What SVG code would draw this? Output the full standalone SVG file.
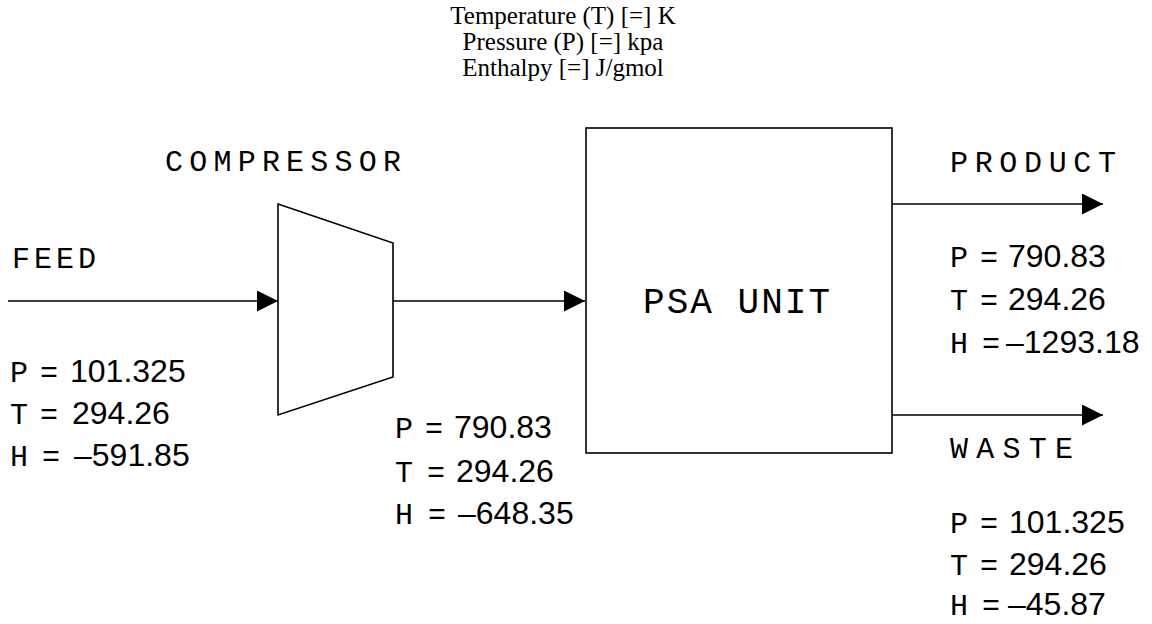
<svg xmlns="http://www.w3.org/2000/svg" width="1152" height="624" viewBox="0 0 1152 624">
  <defs>
    <marker id="arrow" markerUnits="userSpaceOnUse" markerWidth="21" markerHeight="21" refX="21" refY="10.5" orient="auto">
      <path d="M0,0 L21,10.5 L0,21 z" fill="#000"/>
    </marker>
    <style>
      .line { stroke: #000; stroke-width: 1.6; fill: none; }
      .shape { stroke: #000; stroke-width: 1.6; fill: #fff; }
      .title { font-family: "Liberation Serif", "Times New Roman", serif; font-size: 25px; fill: #000; text-anchor: middle; }
      .lbl { font-family: "Liberation Mono", "Courier New", monospace; font-size: 30px; fill: #000; }
      .big { font-family: "Liberation Mono", "Courier New", monospace; font-size: 36px; fill: #000; }
      .num { font-family: "Liberation Sans", Arial, sans-serif; font-size: 32px; fill: #000; }
    </style>
  </defs>
  <rect width="1152" height="624" fill="#fff"/>

  <g id="legend">
    <text class="title" x="563" y="24">Temperature (T) [=] K</text>
    <text class="title" x="563" y="50">Pressure (P) [=] kpa</text>
    <text class="title" x="563" y="76">Enthalpy [=] J/gmol</text>
  </g>

  <g id="connectors">
    <line class="line" x1="8" y1="301" x2="278" y2="301" marker-end="url(#arrow)"/>
    <line class="line" x1="393" y1="301" x2="585" y2="301" marker-end="url(#arrow)"/>
    <line class="line" x1="892" y1="204" x2="1103" y2="204" marker-end="url(#arrow)"/>
    <line class="line" x1="892" y1="415" x2="1103" y2="415" marker-end="url(#arrow)"/>
  </g>

  <g id="compressor">
    <polygon class="shape" points="278,204 393,243 393,377 278,415"/>
    <text class="lbl" x="165" y="171" textLength="236" lengthAdjust="spacing">COMPRESSOR</text>
  </g>

  <g id="psa-unit">
    <rect class="shape" x="586" y="128" width="306" height="325"/>
    <text class="big" x="643" y="313" textLength="187" lengthAdjust="spacing">PSA UNIT</text>
  </g>

  <g id="feed">
    <text class="lbl" x="12" y="268" textLength="84" lengthAdjust="spacing">FEED</text>
    <text class="lbl" x="10" y="382" textLength="48" lengthAdjust="spacing">P =</text>
    <text class="num" x="70" y="382">101.325</text>
    <text class="lbl" x="10" y="424" textLength="48" lengthAdjust="spacing">T =</text>
    <text class="num" x="72" y="424">294.26</text>
    <text class="lbl" x="10" y="466" textLength="50" lengthAdjust="spacing">H =</text>
    <text class="num" x="74" y="466">–591.85</text>
  </g>

  <g id="compressed-stream">
    <text class="lbl" x="395" y="438" textLength="48" lengthAdjust="spacing">P =</text>
    <text class="num" x="454" y="438">790.83</text>
    <text class="lbl" x="395" y="482" textLength="50" lengthAdjust="spacing">T =</text>
    <text class="num" x="456" y="482">294.26</text>
    <text class="lbl" x="395" y="524" textLength="51" lengthAdjust="spacing">H =</text>
    <text class="num" x="458" y="524">–648.35</text>
  </g>

  <g id="product">
    <text class="lbl" x="950" y="172" textLength="166" lengthAdjust="spacing">PRODUCT</text>
    <text class="lbl" x="950" y="267" textLength="48" lengthAdjust="spacing">P =</text>
    <text class="num" x="1008" y="267">790.83</text>
    <text class="lbl" x="950" y="310" textLength="48" lengthAdjust="spacing">T =</text>
    <text class="num" x="1008" y="310">294.26</text>
    <text class="lbl" x="950" y="353" textLength="50" lengthAdjust="spacing">H =</text>
    <text class="num" x="1006" y="353">–1293.18</text>
  </g>

  <g id="waste">
    <text class="lbl" x="950" y="458" textLength="123" lengthAdjust="spacing">WASTE</text>
    <text class="lbl" x="950" y="533" textLength="48" lengthAdjust="spacing">P =</text>
    <text class="num" x="1009" y="533">101.325</text>
    <text class="lbl" x="950" y="575" textLength="48" lengthAdjust="spacing">T =</text>
    <text class="num" x="1009" y="575">294.26</text>
    <text class="lbl" x="950" y="615" textLength="50" lengthAdjust="spacing">H =</text>
    <text class="num" x="1008" y="615">–45.87</text>
  </g>
</svg>
